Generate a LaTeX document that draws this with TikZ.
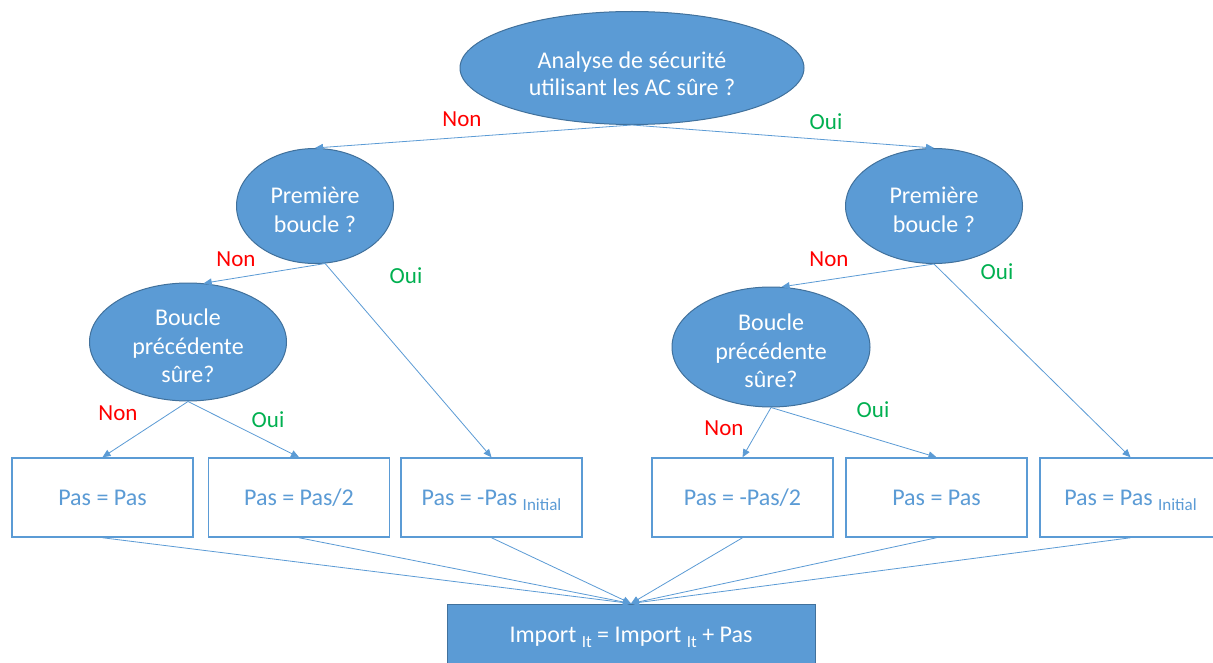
\documentclass[tikz,border=0pt]{standalone}
\usepackage{fontspec}
\setmainfont{Carlito}
\usetikzlibrary{shapes.geometric,arrows.meta}
\definecolor{mblue}{HTML}{5B9BD5}
\definecolor{dblue}{HTML}{41719C}
\definecolor{nonred}{HTML}{FF0000}
\definecolor{ouigreen}{HTML}{00B050}
\newcommand{\lowidx}[1]{\raisebox{-5pt}[0pt][0pt]{\fontsize{17}{17}\selectfont #1}}
\begin{document}
\begin{tikzpicture}[x=1pt,y=-1pt,
 dec/.style={ellipse,fill=mblue,draw=dblue,line width=1pt,inner sep=0pt},
 dectext/.style={text=white,align=center,inner sep=0pt,font=\fontsize{24}{28.5}\selectfont},
 res/.style={rectangle,draw=mblue,line width=1.5pt,text=mblue,minimum width=181pt,minimum height=79pt,inner sep=0pt,font=\fontsize{24}{30}\selectfont},
 conn/.style={draw=mblue,line width=0.8pt,-{Triangle[length=8pt,width=7pt]}},
 lnon/.style={text=nonred,font=\fontsize{23}{26}\selectfont,inner sep=0pt},
 loui/.style={text=ouigreen,font=\fontsize{23}{26}\selectfont,inner sep=0pt}]
\useasboundingbox (0,0) rectangle (1213,663);
\fill[white] (0,0) rectangle (1213,663);

\node[dec,minimum width=344pt,minimum height=113pt] (top) at (632,68) {};
\node[dectext,font=\fontsize{24}{27}\selectfont] (topt) at (632,74) {Analyse de sécurité\\utilisant les AC sûre ?};
\node[dec,minimum width=157pt,minimum height=115pt] (p1) at (315,206) {};
\node[dectext] (p1t) at (315,210) {Première\\boucle ?};
\node[dec,minimum width=177pt,minimum height=115pt] (p2) at (934,206) {};
\node[dectext] (p2t) at (934,210) {Première\\boucle ?};
\node[dec,minimum width=197pt,minimum height=118pt] (b1) at (188,342) {};
\node[dectext] (b1t) at (188,346) {Boucle\\précédente\\sûre?};
\node[dec,minimum width=198pt,minimum height=120pt] (b2) at (771,347) {};
\node[dectext] (b2t) at (771,351) {Boucle\\précédente\\sûre?};

\node[res] (r1) at (102.5,497.5) {Pas = Pas};
\node[res] (r2) at (299,497.5) {Pas = Pas/2};
\node[res] (r3) at (491.5,497.5) {Pas = -Pas \lowidx{Initial}};
\node[res] (r4) at (742.5,497.5) {Pas = -Pas/2};
\node[res] (r5) at (936.5,497.5) {Pas = Pas};
\node[res] (r6) at (1130.5,497.5) {Pas = Pas \lowidx{Initial}};

\node[rectangle,fill=mblue,draw=dblue,line width=1pt,minimum width=368pt,minimum height=66pt,inner sep=0pt,text=white,font=\fontsize{24}{30}\selectfont] (imp) at (631,637) {Import \lowidx{It} = Import \lowidx{It} + Pas};

\draw[conn] (top.south) -- (p1.north);
\draw[conn] (top.south) -- (p2.north);
\draw[conn] (p1.-80) -- (b1.75);
\draw[conn] (p1.-80) -- (r3.north);
\draw[conn] (p2.south) -- (b2.80);
\draw[conn] (p2.south) -- (r6.north);
\draw[conn] (b1.south) -- (r1.north);
\draw[conn] (b1.south) -- (r2.north);
\draw[conn] (b2.south) -- (r4.north);
\draw[conn] (b2.south) -- (r5.north);
\foreach \r in {r1,r2,r3,r4,r5,r6} \draw[conn] (\r.south) -- (imp.north);

\node[lnon] (l1) at (462,119) {Non};
\node[loui] (l2) at (826,122) {Oui};
\node[lnon] (l3) at (236,259) {Non};
\node[loui] (l4) at (406,276) {Oui};
\node[lnon] (l5) at (829,259) {Non};
\node[loui] (l6) at (997,272) {Oui};
\node[lnon] (l7) at (118,413) {Non};
\node[loui] (l8) at (268,420) {Oui};
\node[lnon] (l9) at (724,428) {Non};
\node[loui] (l10) at (873,410) {Oui};
\end{tikzpicture}
\end{document}
